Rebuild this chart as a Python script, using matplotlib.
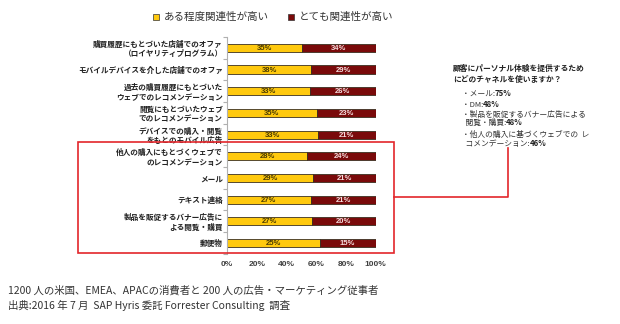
import numpy as np
import matplotlib.pyplot as plt
from matplotlib.patches import Rectangle
from matplotlib.lines import Line2D

plt.rcParams['font.family'] = ['Noto Sans CJK JP', 'DejaVu Sans']

# データ
categories = [
    "購買履歴にもとづいた店舗でのオファ\n（ロイヤリティプログラム）",
    "モバイルデバイスを介した店舗でのオファ",
    "過去の購買履歴にもとづいた\nウェブでのレコメンデーション",
    "閲覧にもとづいたウェブ\nでのレコメンデーション",
    "デバイスでの購入・閲覧\nをもとのモバイル広告",
    "他人の購入にもとづくウェブで\nのレコメンデーション",
    "メール",
    "テキスト連絡",
    "製品を販促するバナー広告に\nよる閲覧・購買",
    "郵便物",
]
some_rel = np.array([35, 38, 33, 35, 33, 28, 29, 27, 27, 25])
very_rel = np.array([34, 29, 26, 23, 21, 24, 21, 21, 20, 15])
series_names = ["ある程度関連性が高い", "とても関連性が高い"]
x_ticks = [0, 0.2, 0.4, 0.6, 0.8, 1.0]
x_ticklabels = ["0%", "20%", "40%", "60%", "80%", "100%"]

side_title = "顧客にパーソナル体験を提供するため\nにどのチャネルを使いますか？"
side_items = [
    ("・メール:", "75%"),
    ("・DM:", "48%"),
    ("・製品を販促するバナー広告による", ""),
    ("  閲覧・購買:", "48%"),
    ("・他人の購入に基づくウェブでの  レ", ""),
    ("  コメンデーション:", "46%"),
]
footnote = ("1200 人の米国、EMEA、APACの消費者と 200 人の広告・マーケティング従事者\n"
            "出典:2016 年 7 月  SAP Hyris 委託 Forrester Consulting  調査")

YELLOW = '#FFC90E'
MAROON = '#7A0A0A'
RED = '#E3262B'

W, H = 620, 324
fig = plt.figure(figsize=(6.2, 3.24), dpi=100)
ax = fig.add_axes([227 / W, 1 - 253.7 / H, (375.5 - 227) / W, (253.7 - 37) / H])

# 100% 積み上げ
total = some_rel + very_rel
share = some_rel / total
y = np.arange(len(categories))
ax.barh(y, share, height=0.37, color=YELLOW, edgecolor='#3a3020', linewidth=0.6)
ax.barh(y, 1 - share, left=share, height=0.37, color=MAROON, edgecolor='#3a3020', linewidth=0.6)

for i in range(len(categories)):
    ax.text(share[i] / 2, y[i] + 0.03, f"{some_rel[i]}%", ha='center', va='center',
            fontsize=5.5, fontweight='bold', color='#4a3a00', family='Liberation Sans')
    ax.text(share[i] + (1 - share[i]) / 2, y[i] + 0.03, f"{very_rel[i]}%", ha='center', va='center',
            fontsize=5.5, fontweight='bold', color='#f6dede', family='Liberation Sans')

ax.set_xlim(0, 1)
ax.set_ylim(len(categories) - 0.5, -0.5)
ax.set_yticks(y)
ax.set_yticklabels(categories, fontsize=5.5, fontweight='bold', color='#222222', linespacing=1.05)
ax.set_yticks(np.arange(-0.5, len(categories), 1), minor=True)
ax.tick_params(axis='y', which='major', length=0, pad=3)
ax.tick_params(axis='y', which='minor', length=3, color='#b0b0b0', width=0.8)
ax.set_xticks(x_ticks)
ax.set_xticklabels(x_ticklabels, fontsize=6, fontweight='bold', color='#404040', family='Liberation Sans')
ax.tick_params(axis='x', length=0, pad=5)
for s in ['top', 'right', 'bottom']:
    ax.spines[s].set_visible(False)
ax.spines['left'].set_color('#b0b0b0')
ax.spines['left'].set_linewidth(0.8)

# 凡例
for (px, name, col) in [(153, series_names[0], YELLOW), (288, series_names[1], MAROON)]:
    fig.add_artist(Rectangle((px / W, 1 - 19.5 / H), 5.5 / W, 5.5 / H, transform=fig.transFigure,
                             facecolor=col, edgecolor='#333333', linewidth=0.5))
    fig.text((px + 11) / W, 1 - 16.5 / H, name, fontsize=7.6, color='#333333', va='center', ha='left')

# 赤枠と連結線
fig.add_artist(Rectangle((78 / W, 1 - 253.3 / H), (394 - 78) / W, (253.3 - 142) / H,
                         transform=fig.transFigure, fill=False, edgecolor=RED, linewidth=1.2))
fig.add_artist(Line2D([394 / W, 507.7 / W, 507.7 / W], [1 - 196.7 / H, 1 - 196.7 / H, 1 - 148.3 / H],
                      transform=fig.transFigure, color=RED, linewidth=1.2))

# 右側の説明
fig.text(453 / W, 1 - 73.5 / H, side_title, fontsize=5.6, fontweight='bold', color='#222222',
         va='center', ha='left', linespacing=1.3)
line_y = [94.3, 105, 115, 123.3, 135, 144.3]
for (lab, pct), yy in zip(side_items, line_y):
    t = fig.text(462 / W, 1 - yy / H, lab, fontsize=5.6, color='#333333', va='center', ha='left')
    if pct:
        fig.add_artist(plt.Annotation(pct, xy=(1, 0), xycoords=t, va='bottom', ha='left',
                                      fontsize=5.6, fontweight='bold', color='#222222'))

# 脚注
fig.text(8 / W, 1 - 298.5 / H, footnote, fontsize=7.5, color='#333333', va='center', ha='left',
         linespacing=1.5)

fig.savefig('out.png', dpi=100)
